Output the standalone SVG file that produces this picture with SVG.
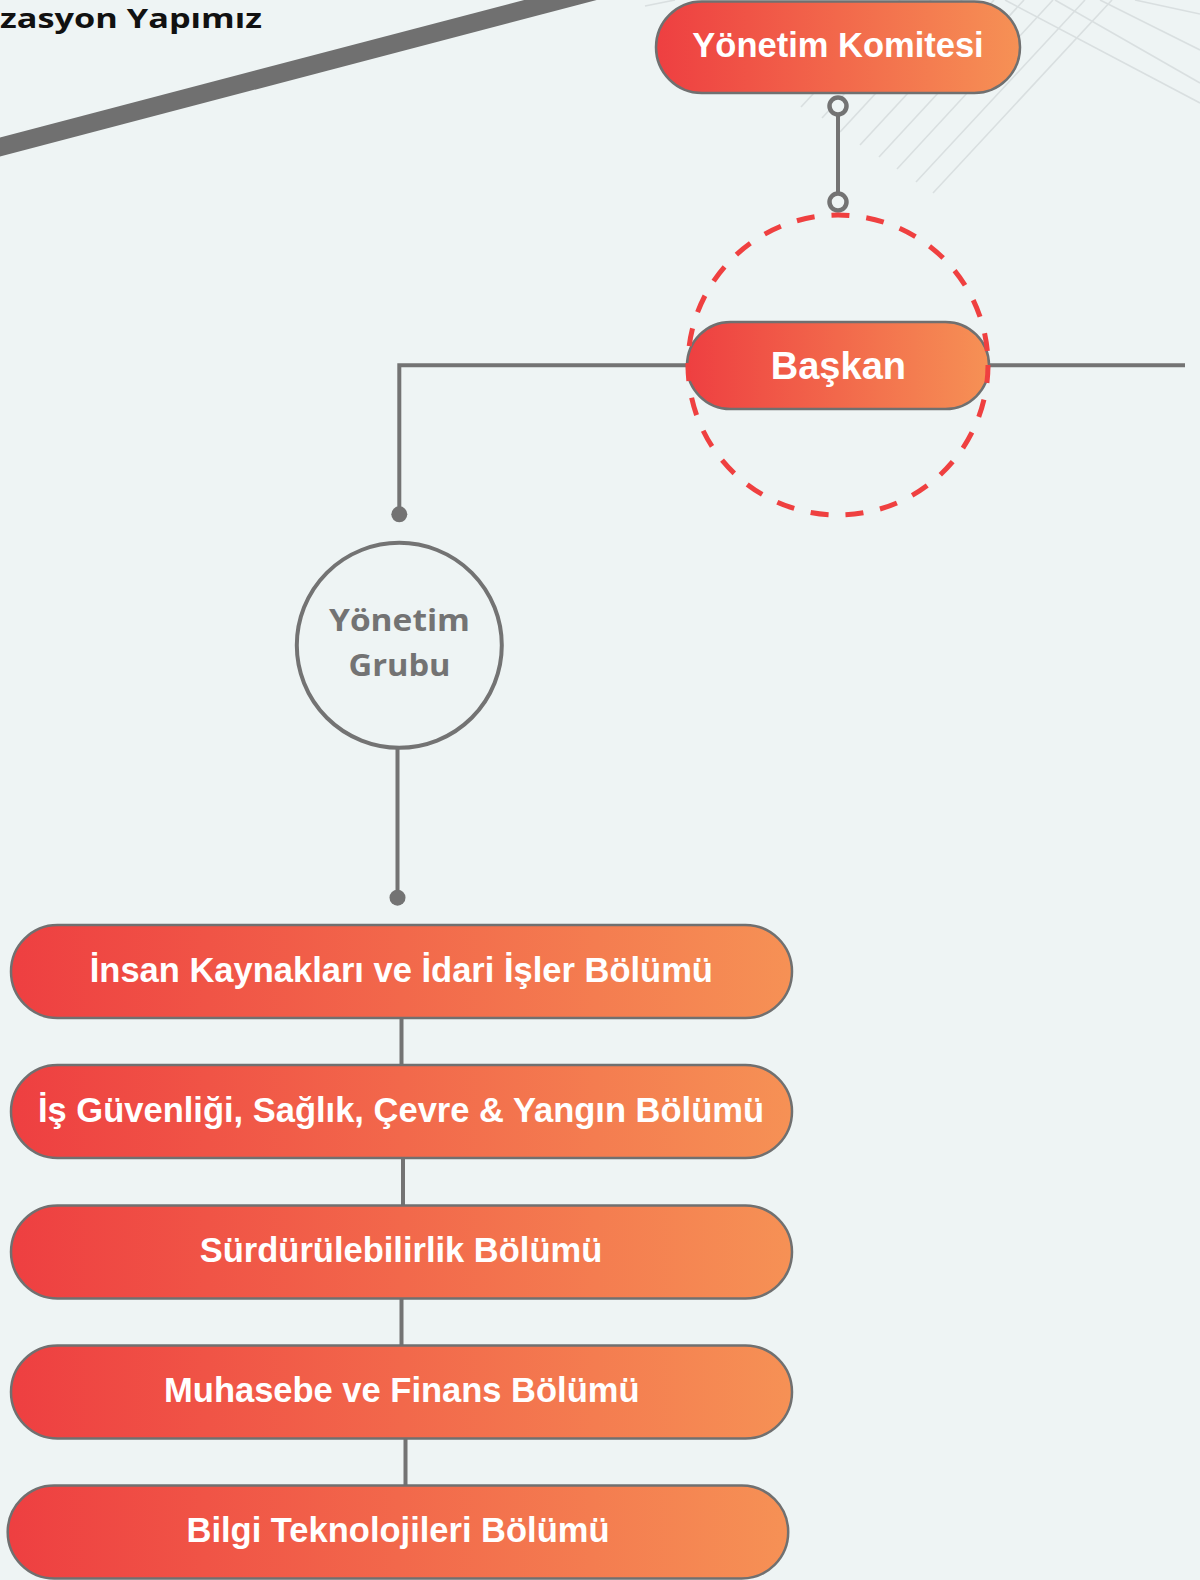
<svg xmlns="http://www.w3.org/2000/svg" width="1200" height="1580" viewBox="0 0 1200 1580">
  <defs>
    <linearGradient id="pillGrad" x1="0" y1="0" x2="1" y2="0">
      <stop offset="0" stop-color="#ee3f41"/>
      <stop offset="1" stop-color="#f69155"/>
    </linearGradient>
    <style>
      .pill { fill: url(#pillGrad); stroke: #707070; stroke-width: 2.5; }
      .pillText { fill: #ffffff; font-family: "Liberation Sans", Arial, sans-serif; font-weight: bold; text-anchor: middle; }
      .conn { stroke: #737373; stroke-width: 4; fill: none; }
      .deco { stroke: #d9dfe0; stroke-width: 1.6; fill: none; }
      .ring { fill: #eef4f4; stroke: #737373; stroke-width: 4.5; }
      .dot { fill: #737373; }
      .geo { font-family: "Open Sans", "Noto Sans", sans-serif; font-weight: bold; }
    </style>
  </defs>

  <rect x="0" y="0" width="1200" height="1580" fill="#eef4f4"/>

  <!-- decorative background lines -->
  <g id="decoration">
    <line class="deco" x1="801" y1="107" x2="900" y2="0"/>
    <line class="deco" x1="822" y1="118" x2="931" y2="0"/>
    <line class="deco" x1="840" y1="132" x2="962" y2="0"/>
    <line class="deco" x1="860" y1="145" x2="994" y2="0"/>
    <line class="deco" x1="879" y1="157" x2="1024" y2="0"/>
    <line class="deco" x1="897" y1="169" x2="1053" y2="0"/>
    <line class="deco" x1="916" y1="182" x2="1085" y2="0"/>
    <line class="deco" x1="933" y1="193" x2="1112" y2="0"/>
    <line class="deco" x1="1005" y1="0" x2="1200" y2="103"/>
    <line class="deco" x1="1055" y1="0" x2="1200" y2="83"/>
    <line class="deco" x1="1100" y1="0" x2="1200" y2="50"/>
    <line class="deco" x1="1135" y1="0" x2="1200" y2="14"/>
    <line class="deco" x1="645" y1="6" x2="675" y2="0"/>
    <line x1="-10" y1="149.6" x2="610" y2="-13" stroke="#707070" stroke-width="18.4"/>
  </g>

  <g id="title">
    <text class="geo" x="0" y="27.5" font-size="26" fill="#111111" textLength="262" lengthAdjust="spacingAndGlyphs">zasyon Yapımız</text>
  </g>

  <!-- connectors -->
  <g id="connectors">
    <line class="conn" x1="838" y1="106" x2="838" y2="202" stroke-width="4.5"/>
    <circle class="ring" cx="838" cy="106" r="8.5"/>
    <circle class="ring" cx="838" cy="202" r="8.5"/>
    <polyline class="conn" points="689,365.3 399.3,365.3 399.3,514" stroke-width="3.5"/>
    <circle class="dot" cx="399.3" cy="514.3" r="8"/>
    <line class="conn" x1="988" y1="365.3" x2="1185" y2="365.3" stroke-width="3.5"/>
    <line class="conn" x1="397.5" y1="748" x2="397.5" y2="897" stroke-width="3.5"/>
    <circle class="dot" cx="397.5" cy="897.7" r="8"/>
    <line class="conn" x1="401.5" y1="1018" x2="401.5" y2="1065" stroke-width="3.5"/>
    <line class="conn" x1="403" y1="1158" x2="403" y2="1206" stroke-width="3.5"/>
    <line class="conn" x1="401.5" y1="1298" x2="401.5" y2="1346" stroke-width="3.5"/>
    <line class="conn" x1="405.5" y1="1438" x2="405.5" y2="1486" stroke-width="3.5"/>
  </g>

  <g id="node-yonetim-komitesi">
    <rect class="pill" x="656" y="1.5" width="364" height="91.5" rx="45.75"/>
    <text class="pillText" x="838" y="57.3" font-size="34.5">Yönetim Komitesi</text>
  </g>

  <g id="node-baskan">
    <rect class="pill" x="687" y="322" width="302" height="87" rx="43.5"/>
    <text class="pillText" x="838.4" y="379" font-size="38">Başkan</text>
    <circle cx="838" cy="365" r="150" fill="none" stroke="#ef4040" stroke-width="5" stroke-dasharray="18 17"/>
  </g>

  <g id="node-yonetim-grubu">
    <circle cx="399.3" cy="645.3" r="102.5" fill="none" stroke="#737373" stroke-width="4"/>
    <text class="geo" x="399.5" y="631" font-size="31" fill="#737373" text-anchor="middle" textLength="141" lengthAdjust="spacingAndGlyphs">Yönetim</text>
    <text class="geo" x="399.5" y="676" font-size="31" fill="#737373" text-anchor="middle" textLength="102" lengthAdjust="spacingAndGlyphs">Grubu</text>
  </g>

  <g id="node-insan-kaynaklari">
    <rect class="pill" x="11" y="925" width="781" height="93" rx="46.5"/>
    <text class="pillText" x="401.3" y="981.7" font-size="34.5">İnsan Kaynakları ve İdari İşler Bölümü</text>
  </g>

  <g id="node-is-guvenligi">
    <rect class="pill" x="11" y="1065" width="781" height="93" rx="46.5"/>
    <text class="pillText" x="401" y="1121.7" font-size="34.5">İş Güvenliği, Sağlık, Çevre &amp; Yangın Bölümü</text>
  </g>

  <g id="node-surdurulebilirlik">
    <rect class="pill" x="11" y="1205.5" width="781" height="93" rx="46.5"/>
    <text class="pillText" x="401" y="1261.7" font-size="34.5">Sürdürülebilirlik Bölümü</text>
  </g>

  <g id="node-muhasebe">
    <rect class="pill" x="11" y="1345.5" width="781" height="93" rx="46.5"/>
    <text class="pillText" x="401.8" y="1401.7" font-size="34.5">Muhasebe ve Finans Bölümü</text>
  </g>

  <g id="node-bilgi-teknolojileri">
    <rect class="pill" x="7.7" y="1485.5" width="780.5" height="93" rx="46.5"/>
    <text class="pillText" x="398" y="1541.7" font-size="34.5">Bilgi Teknolojileri Bölümü</text>
  </g>
</svg>
